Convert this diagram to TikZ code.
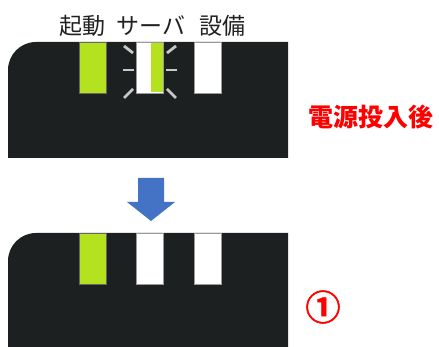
\documentclass[tikz,border=0pt]{standalone}
\usepackage{fontspec}
\newfontfamily\cjk{Noto Sans CJK JP}
\newfontfamily\cjkheavy{Noto Sans CJK JP Bold}[FakeBold=1.5]
\definecolor{panel}{HTML}{1C2020}
\definecolor{ledgreen}{HTML}{B5E21E}
\definecolor{ray}{HTML}{C8C8C8}
\definecolor{arrowblue}{HTML}{4472C4}
\definecolor{alert}{HTML}{FF0000}
\tikzset{
  led/.style={draw=#1, line width=0.8pt, minimum width=27pt, minimum height=51pt, inner sep=0pt},
  label/.style={font=\cjk\fontsize{23}{23}\selectfont, text=black!87, inner sep=0pt},
  raystyle/.style={draw=ray, line width=2.8pt},
}
\begin{document}
\begin{tikzpicture}[x=1pt,y=-1pt]
\useasboundingbox (0,0) rectangle (439,347);
% top panel
\fill[panel] (8,158) -- (8,70) arc[start angle=180,end angle=270,radius=28] -- (288,42) -- (288,158) -- cycle;
\node[label] (l1) at (82,26) {起動};
\node[label] (l2) at (151,26) {サーバ};
\node[label] (l3) at (222,26) {設備};
\node[led=black!60, fill=ledgreen] (a1) at (92.5,67.5) {};
\node[led=black!40, fill=white] (a2) at (150,67.5) {};
\fill[ledgreen] (151,43) rectangle (162.6,92);
\node[led=black!40, fill=white] (a3) at (208,67.5) {};
% rays
\draw[raystyle] (123,70) -- (134,70);
\draw[raystyle] (166,70) -- (177,70);
\draw[raystyle] (124,46) -- (133,53);
\draw[raystyle] (167,53) -- (176,46);
\draw[raystyle] (124,98) -- (133,89);
\draw[raystyle] (167,89) -- (176,98);
\node[font=\cjk\bfseries\fontsize{25}{25}\selectfont, text=alert, inner sep=0pt] (t1) at (371,117) {電源投入後};
% arrow
\fill[arrowblue] (138,178) -- (164,178) -- (164,202) -- (175,202) -- (151,221) -- (127,202) -- (138,202) -- cycle;
% bottom panel
\fill[panel] (8,347) -- (8,261) arc[start angle=180,end angle=270,radius=28] -- (288,233) -- (288,347) -- cycle;
\node[led=black!60, fill=ledgreen] (b1) at (92.5,259) {};
\node[led=black!40, fill=white] (b2) at (150,259) {};
\node[led=black!40, fill=white] (b3) at (208,259) {};
\node[font=\cjkheavy\fontsize{35}{35}\selectfont, text=alert, inner sep=0pt] (t2) at (323,307) {①};
\end{tikzpicture}
\end{document}
